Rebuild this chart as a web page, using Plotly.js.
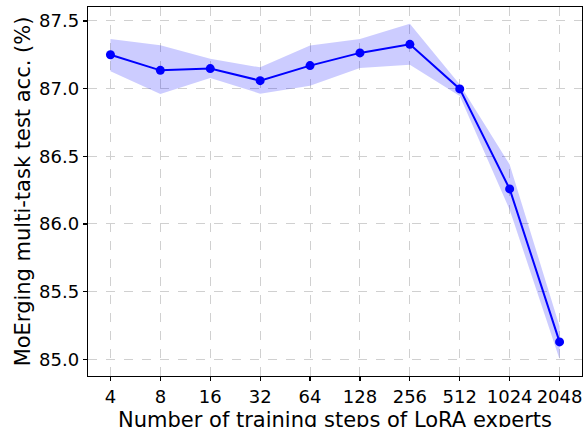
<!DOCTYPE html>
<html>
<head>
<meta charset="utf-8">
<script src="https://cdn.plot.ly/plotly-3.0.1.min.js"></script>
<style>html,body{margin:0;padding:0;background:#fff;}#chart{width:584px;height:427px;}</style>
</head>
<body>
<div id="chart"></div>
<script>
const steps = ['4','8','16','32','64','128','256','512','1024','2048'];
const meanAcc = [87.25, 87.135, 87.148, 87.059, 87.17, 87.264, 87.327, 86.998, 86.259, 85.129];
const upperAcc = [87.367, 87.32, 87.22, 87.157, 87.318, 87.367, 87.48, 87.03, 86.44, 85.245];
const lowerAcc = [87.128, 86.96, 87.079, 86.963, 87.022, 87.153, 87.177, 86.945, 86.106, 85.0];
const yTicks = [85.0, 85.5, 86.0, 86.5, 87.0, 87.5];
const xTitle = 'Number of training steps of LoRA experts';
const yTitle = 'MoErging multi-task test acc. (%)';

const font = 'DejaVu Sans, sans-serif';
const traces = [
  {x: steps, y: lowerAcc, type: 'scatter', mode: 'lines', line: {width: 0, color: 'rgba(0,0,255,0)'}, hoverinfo: 'skip', showlegend: false},
  {x: steps, y: upperAcc, type: 'scatter', mode: 'lines', line: {width: 0, color: 'rgba(0,0,255,0)'}, fill: 'tonexty', fillcolor: 'rgba(0,0,255,0.2)', showlegend: false},
  {x: steps, y: meanAcc, type: 'scatter', mode: 'lines+markers', line: {color: '#0000ff', width: 2}, marker: {color: '#0000ff', size: 9}, showlegend: false}
];
const layout = {
  width: 584, height: 427,
  margin: {l: 88, r: 2, t: 7, b: 51},
  paper_bgcolor: '#fff', plot_bgcolor: '#fff',
  font: {family: font, color: '#000'},
  xaxis: {
    type: 'category', range: [-0.45, 9.45], tickangle: 0,
    showline: true, linecolor: '#000', linewidth: 1.2, mirror: true,
    ticks: 'outside', ticklen: 4, tickcolor: '#000', tickwidth: 1.2,
    showgrid: true, gridcolor: '#d0d0d0', griddash: 'dash', gridwidth: 1,
    tickfont: {family: font, size: 18, color: '#000'},
    zeroline: false
  },
  yaxis: {
    range: [84.877, 87.603],
    tickvals: yTicks, ticktext: yTicks.map(v => v.toFixed(1)),
    showline: true, linecolor: '#000', linewidth: 1.2, mirror: true,
    ticks: 'outside', ticklen: 4, tickcolor: '#000', tickwidth: 1.2,
    showgrid: true, gridcolor: '#d0d0d0', griddash: 'dash', gridwidth: 1,
    tickfont: {family: font, size: 18, color: '#000'},
    title: {text: yTitle, font: {family: font, size: 21, color: '#000'}, standoff: 2},
    zeroline: false
  },
  annotations: [{
    text: xTitle, xref: 'paper', yref: 'paper', x: 0.5, y: 0,
    xanchor: 'center', yanchor: 'top', yshift: -30, showarrow: false,
    font: {family: font, size: 21, color: '#000'}
  }]
};
Plotly.newPlot('chart', traces, layout, {displayModeBar: false, staticPlot: true});
</script>
</body>
</html>
